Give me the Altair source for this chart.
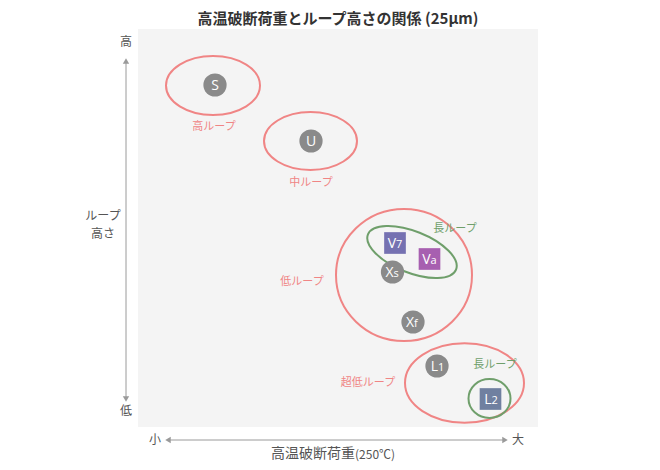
import altair as alt
import pandas as pd

# ---------------- data (abstract chart units: x = 高温破断荷重, y = ループ高さ) ----------------
pt_name = ["S", "U", "V7", "Va", "Xs", "Xf", "L1", "L2"]
pt_main = ["S", "U", "V", "V", "X", "X", "L", "L"]
pt_sub = ["", "", "7", "a", "s", "f", "1", "2"]
pt_marker = ["circle", "circle", "square", "square", "circle", "circle", "circle", "square"]
pt_x = [77, 173, 257, 291.5, 254.5, 275, 299, 352.5]
pt_y = [342, 286, 184, 168, 155, 105, 61, 28]

ell_label = ["高ループ", "中ループ", "低ループ", "超低ループ", "長ループ", "長ループ"]
ell_group = ["loop", "loop", "loop", "loop", "long", "long"]
ell_cx = [75, 172.5, 266, 326.5, 274, 351.5]
ell_cy = [341.5, 286, 152, 44, 175, 28.5]
ell_rx = [47, 46.5, 68, 59.5, 47.4, 21]
ell_ry = [29.5, 29, 66, 39.7, 20.7, 19.5]
ell_tilt = [0, 0, 0, 0, 21.7, 0]
lab_x = [76, 173, 164, 230, 317, 357]
lab_y = [300, 244, 145, 44, 198, 62]

axis_text = ["高", "低", "ループ", "高さ", "小", "大"]
axis_text_x = [-12, -12, -35, -35, 17, 380]
axis_text_y = [385, 16, 211, 193, -13, -13]

title_text = "高温破断荷重とループ高さの関係 (25μm)"
xtitle_main = "高温破断荷重"
xtitle_sub = "(250℃)"

# ---------------- styles ----------------
RED = "#f08585"
GREEN = "#6f9f6b"
PT_COLORS = ["#8a8a8a", "#8a8a8a", "#7571b1", "#a75fb0", "#8a8a8a", "#8a8a8a", "#8a8a8a", "#7080a0"]
AXIS_GRAY = "#9a9a9a"
TEXT_GRAY = "#555555"
JP = "Noto Sans CJK JP"
LAT = "Open Sans"

KAPPA = 0.5523


def ellipse_path(rx, ry):
    k = ry / rx
    c = KAPPA
    return (f"M 1 0 C 1 {c*k:.4f} {c:.4f} {k:.4f} 0 {k:.4f} "
            f"C {-c:.4f} {k:.4f} -1 {c*k:.4f} -1 0 "
            f"C -1 {-c*k:.4f} {-c:.4f} {-k:.4f} 0 {-k:.4f} "
            f"C {c:.4f} {-k:.4f} 1 {-c*k:.4f} 1 0 Z")


pts = pd.DataFrame({"name": pt_name, "main": pt_main, "sub": pt_sub,
                    "marker": pt_marker, "x": pt_x, "y": pt_y})
ells = pd.DataFrame({"label": ell_label, "grp": ell_group, "x": ell_cx, "y": ell_cy,
                     "rx": ell_rx, "ry": ell_ry, "tilt": ell_tilt})
ells["path"] = [ellipse_path(a, b) for a, b in zip(ell_rx, ell_ry)]
ells["sz"] = [(2 * a) ** 2 for a in ell_rx]
labs = pd.DataFrame({"label": ell_label, "grp": ell_group, "x": lab_x, "y": lab_y})
axt = pd.DataFrame({"t": axis_text, "x": axis_text_x, "y": axis_text_y})

X = alt.X("x:Q", scale=alt.Scale(domain=[0, 400], nice=False, zero=False), axis=None)
Y = alt.Y("y:Q", scale=alt.Scale(domain=[0, 398], nice=False, zero=False), axis=None)
grp_scale = alt.Scale(domain=["loop", "long"], range=[RED, GREEN])

ellipses = alt.Chart(ells).mark_point(filled=False, strokeWidth=2, opacity=1).encode(
    x=X, y=Y,
    shape=alt.Shape("path:N", scale=None),
    size=alt.Size("sz:Q", scale=None),
    angle=alt.Angle("tilt:Q", scale=None),
    stroke=alt.Stroke("grp:N", scale=grp_scale, legend=None),
)

ell_labels = alt.Chart(labs).mark_text(font=JP, fontSize=11, baseline="middle").encode(
    x=X, y=Y, text="label:N", fill=alt.Fill("grp:N", scale=grp_scale, legend=None))

pt_fill = alt.Color("name:N", scale=alt.Scale(domain=pt_name, range=PT_COLORS), legend=None)

circles = alt.Chart(pts).transform_filter(alt.datum.marker == "circle").mark_circle(
    size=540, opacity=1).encode(x=X, y=Y, color=pt_fill)
squares = alt.Chart(pts).transform_filter(alt.datum.marker == "square").mark_square(
    size=470, opacity=1).encode(x=X, y=Y, color=pt_fill)

main_single = alt.Chart(pts).transform_filter(alt.datum.sub == "").mark_text(
    font=LAT, fontSize=14, color="white", align="center", baseline="alphabetic", dy=5
).encode(x=X, y=Y, text="main:N")
main_pair = alt.Chart(pts).transform_filter(alt.datum.sub != "").mark_text(
    font=LAT, fontSize=14, color="white", align="right", baseline="alphabetic", dx=1, dy=5
).encode(x=X, y=Y, text="main:N")
sub_pair = alt.Chart(pts).transform_filter(alt.datum.sub != "").mark_text(
    font=LAT, fontSize=11, color="white", align="left", baseline="alphabetic", dx=1, dy=5
).encode(x=X, y=Y, text="sub:N")

# axis arrows
rules_df = pd.DataFrame({"x": [-12, 30], "x2": [-12, 367], "y": [366, -13], "y2": [28, -13]})
rules = alt.Chart(rules_df).mark_rule(color=AXIS_GRAY, strokeWidth=1).encode(
    x=X, y=Y, x2="x2:Q", y2="y2:Q")
heads_df = pd.DataFrame({"x": [-12, -12, 30, 367], "y": [366, 28, -13, -13],
                         "s": ["triangle-up", "triangle-down", "triangle-left", "triangle-right"]})
heads = alt.Chart(heads_df).mark_point(filled=True, size=40, color=AXIS_GRAY, opacity=1).encode(
    x=X, y=Y, shape=alt.Shape("s:N", scale=None))

axis_labels = alt.Chart(axt).mark_text(font=JP, fontSize=12, color=TEXT_GRAY, baseline="middle").encode(
    x=X, y=Y, text="t:N")

xt_df = pd.DataFrame({"x": [217], "y": [-27], "a": [xtitle_main], "b": [xtitle_sub]})
xt_main = alt.Chart(xt_df).mark_text(font=JP, fontSize=14, color=TEXT_GRAY, align="right",
                                     baseline="middle").encode(x=X, y=Y, text="a:N")
xt_sub = alt.Chart(xt_df).mark_text(font=JP, fontSize=12, color=TEXT_GRAY, align="left",
                                    baseline="middle", dy=1).encode(x=X, y=Y, text="b:N")

chart = alt.layer(
    ellipses, ell_labels, circles, squares, main_single, main_pair, sub_pair,
    rules, heads, axis_labels, xt_main, xt_sub
).properties(
    width=400, height=398,
    padding={"left": 130, "top": 21, "right": 110, "bottom": 36},
    autosize=alt.AutoSizeParams(type="none"),
    title=alt.Title(title_text, font=JP, fontSize=15, fontWeight="bold", color="#333333",
                    anchor="middle", offset=2),
).configure_view(fill="#f4f4f4", strokeWidth=0)

chart.save("out.html", embed_options={"renderer": "svg", "actions": False})
